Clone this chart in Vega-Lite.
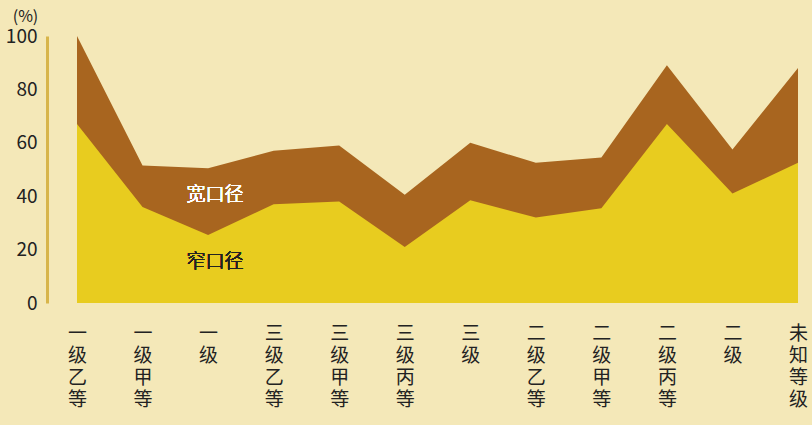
{
  "$schema": "https://vega.github.io/schema/vega-lite/v6.json",
  "width": 721,
  "height": 267,
  "autosize": {"type": "none"},
  "padding": {"left": 77, "top": 36, "right": 14, "bottom": 122},
  "background": "#F4E8B8",
  "config": {
    "view": {"stroke": null},
    "font": "Noto Sans CJK SC",
    "axis": {"grid": false, "labelColor": "#222222", "titleColor": "#222222"}
  },
  "data": {
    "values": [
      {"等级": "一级乙等", "宽口径": 100, "窄口径": 67},
      {"等级": "一级甲等", "宽口径": 51.5, "窄口径": 36},
      {"等级": "一级", "宽口径": 50.5, "窄口径": 25.5},
      {"等级": "三级乙等", "宽口径": 57, "窄口径": 37},
      {"等级": "三级甲等", "宽口径": 59, "窄口径": 38},
      {"等级": "三级丙等", "宽口径": 40.5, "窄口径": 21},
      {"等级": "三级", "宽口径": 60, "窄口径": 38.5},
      {"等级": "二级乙等", "宽口径": 52.5, "窄口径": 32},
      {"等级": "二级甲等", "宽口径": 54.5, "窄口径": 35.5},
      {"等级": "二级丙等", "宽口径": 89, "窄口径": 67},
      {"等级": "二级", "宽口径": 57.5, "窄口径": 41},
      {"等级": "未知等级", "宽口径": 88, "窄口径": 52.5}
    ]
  },
  "encoding": {
    "x": {
      "field": "等级",
      "type": "ordinal",
      "sort": null,
      "scale": {"type": "point", "padding": 0},
      "axis": {
        "title": null,
        "labelAngle": 0,
        "labelBaseline": "top",
        "labelAlign": "center",
        "labelFontSize": 19,
        "labelLineHeight": 22,
        "labelPadding": 21,
        "labelExpr": "split(datum.label, '')",
        "domain": false,
        "ticks": false
      }
    }
  },
  "layer": [
    {
      "mark": {"type": "area", "color": "#A8651F", "interpolate": "linear"},
      "encoding": {
        "y": {
          "field": "宽口径",
          "type": "quantitative",
          "scale": {"domain": [0, 100], "nice": false},
          "axis": {
            "title": "(%)",
            "titleAngle": 0,
            "titleAlign": "center",
            "titleBaseline": "middle",
            "titleX": -22,
            "titleY": -20,
            "titleFontSize": 16,
            "titleFontWeight": "normal",
            "values": [0, 20, 40, 60, 80, 100],
            "offset": 30,
            "domainColor": "#D8B54A",
            "domainWidth": 3,
            "ticks": false,
            "labelPadding": 10,
            "labelFontSize": 19
          }
        }
      }
    },
    {
      "mark": {"type": "area", "color": "#E8CC1F", "interpolate": "linear"},
      "encoding": {
        "y": {"field": "窄口径", "type": "quantitative"}
      }
    },
    {
      "mark": {"type": "text", "text": "宽口径", "font": "Noto Sans CJK SC", "fontWeight": 300, "color": "#FFFFFF", "fontSize": 19, "dx": 7, "align": "center", "baseline": "middle"},
      "encoding": {
        "x": {"datum": "一级"},
        "y": {"datum": 40.5}
      }
    },
    {
      "mark": {"type": "text", "text": "窄口径", "font": "Noto Sans CJK SC", "fontWeight": 300, "color": "#222222", "fontSize": 19, "dx": 7, "align": "center", "baseline": "middle"},
      "encoding": {
        "x": {"datum": "一级"},
        "y": {"datum": 15.5}
      }
    }
  ]
}
